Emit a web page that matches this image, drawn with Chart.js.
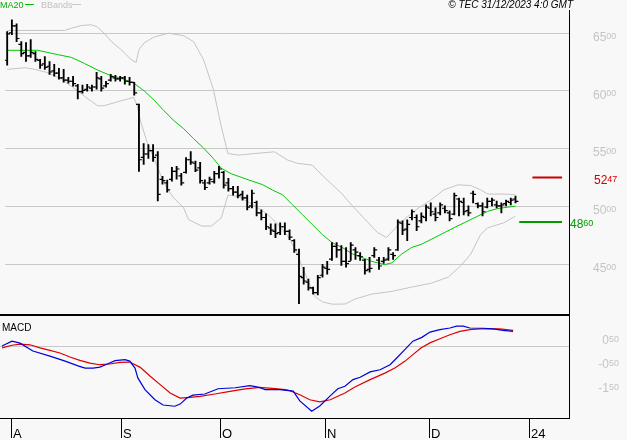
<!DOCTYPE html>
<html>
<head>
<meta charset="utf-8">
<script src="https://cdn.jsdelivr.net/npm/chart.js@4.4.0/dist/chart.umd.min.js"></script>
<style>
html, body { margin: 0; padding: 0; background: #f8f8f8; }
#wrap { position: relative; width: 627px; height: 440px; overflow: hidden; }
#price { position: absolute; left: 0; top: 0; }
#macd { position: absolute; left: 0; top: 316px; }
</style>
</head>
<body>
<div id="wrap">
  <canvas id="price" width="627" height="316"></canvas>
  <canvas id="macd" width="627" height="124"></canvas>
</div>
<script>
// daily bars, index 0 = 28 Jul 2023 (trading days)
const open = [
  6260, 6500, 6560, 6400, 6330, 6300, 6320, 6260, 6230, 6210,
  6170, 6150, 6110, 6090, 6080, 6040, 5990, 6010, 6020, 6030,
  6100, 6040, 6090, 6110, 6100, 6110, 6080, 6070, 5880, 5420,
  5450, 5480, 5440, 5230, 5200, 5230, 5300, 5260, 5290, 5400,
  5370, 5330, 5200, 5200, 5210, 5280, 5290, 5200, 5150, 5120,
  5100, 5070, 5000, 5030, 4940, 4900, 4810, 4780, 4770, 4820,
  4780, 4700, 4580, 4380, 4340, 4290, 4250, 4400, 4460, 4540,
  4650, 4620, 4520, 4520, 4620, 4570, 4530, 4450, 4570, 4530,
  4520, 4540, 4580, 4620, 4850, 4800, 4900, 4900, 4870, 4900,
  4980, 4930, 4940, 4980, 4940, 4930, 5060, 5030, 4960, 5110,
  5020, 5000, 4990, 5040, 5010, 5000, 5020, 5030, 5060
];
const high = [
  6511, 6611, 6577, 6423, 6414, 6440, 6337, 6269, 6294, 6251,
  6226, 6191, 6183, 6114, 6123, 6054, 6046, 6054, 6046, 6157,
  6123, 6080, 6140, 6131, 6123, 6123, 6114, 6071, 5883, 5540,
  5531, 5531, 5471, 5257, 5223, 5334, 5343, 5283, 5420, 5471,
  5388, 5377, 5226, 5249, 5300, 5343, 5300, 5240, 5171, 5171,
  5129, 5094, 5137, 5043, 4966, 4931, 4846, 4846, 4854, 4854,
  4794, 4709, 4626, 4469, 4366, 4297, 4400, 4494, 4520, 4683,
  4683, 4657, 4640, 4683, 4640, 4597, 4537, 4554, 4640, 4554,
  4554, 4640, 4597, 4880, 4871, 4880, 4966, 4923, 4940, 5009,
  5026, 4983, 5026, 5000, 4957, 5111, 5069, 5069, 5000, 5129,
  5026, 5026, 5069, 5069, 5043, 5026, 5051, 5069, 5086
];
const low = [
  6220, 6483, 6423, 6294, 6251, 6286, 6251, 6191, 6183, 6140,
  6123, 6097, 6071, 6063, 6037, 5926, 5977, 5994, 5994, 6011,
  5994, 6029, 6080, 6080, 6080, 6054, 6046, 5960, 5300, 5360,
  5411, 5386, 5043, 5189, 5120, 5214, 5231, 5180, 5283, 5360,
  5297, 5197, 5140, 5189, 5197, 5240, 5154, 5129, 5094, 5069,
  5051, 4966, 4983, 4914, 4880, 4794, 4751, 4726, 4751, 4751,
  4709, 4597, 4154, 4323, 4271, 4237, 4229, 4383, 4409, 4529,
  4554, 4486, 4469, 4529, 4537, 4529, 4409, 4426, 4554, 4451,
  4503, 4529, 4537, 4614, 4751, 4700, 4880, 4786, 4854, 4871,
  4914, 4871, 4923, 4940, 4871, 4923, 4914, 4923, 4914, 5026,
  4983, 4914, 4983, 5000, 4983, 4940, 5000, 5009, 5026
];
const close = [
  6490, 6560, 6450, 6320, 6300, 6330, 6270, 6220, 6200, 6160,
  6150, 6110, 6090, 6080, 6060, 5990, 6000, 6030, 6030, 6110,
  6020, 6060, 6120, 6100, 6110, 6080, 6070, 5980, 5400, 5450,
  5480, 5420, 5100, 5220, 5140, 5300, 5320, 5200, 5400, 5380,
  5310, 5220, 5160, 5230, 5280, 5320, 5180, 5150, 5120, 5090,
  5070, 4990, 5110, 4940, 4900, 4820, 4790, 4760, 4820, 4780,
  4730, 4620, 4390, 4350, 4290, 4250, 4380, 4470, 4450, 4650,
  4620, 4520, 4500, 4660, 4600, 4560, 4440, 4460, 4620, 4480,
  4530, 4620, 4570, 4860, 4790, 4840, 4950, 4820, 4910, 4990,
  4950, 4900, 5010, 4960, 4890, 5090, 5040, 4950, 4940, 5100,
  5000, 4950, 5040, 5050, 5000, 5010, 5040, 5050, 5040
];

// MA20 (day index, value)
const maX = [0, 6.5, 10.7, 13.7, 16.4, 19.2, 22.1, 24.2, 26.9, 29.1, 31.2, 33.3, 35.4, 37.5, 39.6, 41.7, 43.8, 45.5, 47.6, 51.2, 54.3, 56.4, 58.5, 60.6, 62.7, 64.8, 67, 69, 71.2, 73.3, 75.4, 77.5, 80.2, 81.7, 83.8, 85.9, 88, 90.1, 92.2, 94.9, 97.1, 100, 102.1, 104.2, 106.3, 108];
const maY = [6348, 6348, 6311, 6286, 6234, 6177, 6127, 6106, 6063, 5997, 5917, 5825, 5740, 5669, 5583, 5503, 5411, 5326, 5279, 5227, 5184, 5137, 5097, 5011, 4926, 4840, 4751, 4683, 4640, 4586, 4554, 4520, 4492, 4507, 4583, 4640, 4668, 4711, 4754, 4811, 4854, 4912, 4954, 4977, 4989, 4998];

// Bollinger bands
const bbUpX = [0, 12.2, 13.7, 15.8, 17.9, 19.2, 20.6, 22.1, 24.2, 26.3, 27.4, 28, 29.1, 31.2, 34.3, 37.5, 39.6, 41.7, 43.8, 45.5, 46.9, 49.1, 52.6, 56.8, 59.6, 61.7, 64.8, 66.9, 69.1, 71.2, 72.8, 75.4, 78.7, 80.6, 83.2, 86.5, 90.1, 92.8, 95.8, 98.5, 100.6, 102.1, 105.5, 108];
const bbUpY = [6520, 6520, 6540, 6563, 6569, 6549, 6497, 6425, 6354, 6269, 6243, 6354, 6412, 6463, 6496, 6474, 6423, 6269, 6011, 5686, 5454, 5440, 5454, 5469, 5397, 5369, 5354, 5268, 5183, 5103, 5026, 4912, 4769, 4726, 4840, 4957, 5054, 5140, 5183, 5177, 5140, 5103, 5103, 5097];
const bbLoX = [0, 3.8, 5.9, 8.6, 11.6, 13.7, 16.4, 19.2, 20.6, 24.2, 26.9, 27.6, 28.4, 29.7, 31.2, 32.6, 33.9, 35.4, 37.5, 38.5, 41.3, 43.4, 45.5, 46.9, 49.1, 52.2, 55.4, 57.5, 59.6, 61.7, 62.7, 64.2, 65.5, 67, 69.1, 71.8, 73.9, 77.5, 81.7, 85.9, 90.1, 93.7, 96.4, 98.5, 100.6, 102.1, 105.5, 108];
const bbLoY = [6183, 6197, 6183, 6154, 6097, 6034, 5951, 5868, 5868, 5911, 5940, 5868, 5726, 5554, 5411, 5268, 5154, 5069, 4983, 4883, 4826, 4826, 4897, 5094, 5083, 5011, 4926, 4840, 4740, 4589, 4469, 4326, 4211, 4169, 4149, 4151, 4194, 4237, 4260, 4297, 4331, 4383, 4483, 4583, 4754, 4811, 4854, 4912];

// MACD and signal
const macdX = [0, 2.1, 3.8, 6.5, 10.1, 13.3, 16, 17.5, 19.2, 20.6, 22.3, 23.8, 25.9, 26.9, 28, 28.6, 30.1, 32.2, 33.9, 36.4, 37.5, 38.9, 40.2, 42.7, 45.5, 49.1, 52.2, 53.9, 55.4, 58.5, 61.3, 62.7, 65.2, 66.9, 69.1, 70.7, 72.2, 73.9, 75.4, 77.5, 79.6, 81.7, 83.1, 84.8, 86.5, 88.4, 90.1, 92.2, 94.3, 95.7, 97.1, 98.5, 101.3, 103.4, 105.5, 107.6];
const macdY = [0, 20, 12, -21, -42, -63, -83, -92, -92, -88, -74, -61, -57, -63, -92, -133, -182, -224, -246, -251, -242, -217, -205, -200, -178, -174, -165, -171, -182, -182, -188, -229, -272, -250, -208, -178, -168, -140, -130, -108, -99, -78, -50, -15, 20, 36, 58, 68, 75, 83, 83, 75, 74, 71, 65, 61];
const sigX = [0, 2.1, 3.8, 5.9, 8, 10.1, 12.2, 14.3, 16.4, 18.5, 20.6, 22.7, 24.8, 26.9, 29.1, 31.2, 33.3, 35.4, 37.5, 39.6, 41.7, 44.8, 48, 51.2, 54.3, 57.5, 59.6, 60.6, 62.7, 64.8, 66.9, 69.1, 72.2, 74.3, 77.5, 80.6, 82.7, 84.8, 86.5, 88.2, 90.1, 92.2, 94.3, 96.4, 98.5, 100.6, 104.8, 107.6];
const sigY = [-8, 3, 8, 5, -8, -18, -29, -46, -60, -71, -78, -75, -68, -67, -89, -126, -161, -196, -217, -214, -210, -200, -189, -179, -172, -178, -182, -186, -203, -224, -233, -224, -196, -171, -140, -113, -92, -64, -36, -8, 13, 30, 47, 61, 68, 71, 71, 65];

const resistance = 5247;
const support = 4860;

const monthStarts = [2, 25, 46, 68, 90, 111];
const monthLabels = ['A', 'S', 'O', 'N', 'D', '24'];
const priceTicks = [4500, 5000, 5500, 6000, 6500];
const priceTickLabels = ['4500', '5000', '5500', '6000', '6500'];
const macdTicks = [50, -50, -150];
const macdTickLabels = ['050', '-050', '-150'];

const X_MIN = -0.42, X_MAX = 119.37;
const FONT = '"Liberation Sans", Arial, sans-serif';

function pts(xs, ys) {
  return xs.map((x, k) => ({ x: x, y: ys[k] }));
}

// big digits + small trailing two digits, top aligned
function splitLabel(ctx, txt, x, yTop, color, alignRight) {
  const big = txt.slice(0, -2), small = txt.slice(-2);
  ctx.font = '12px ' + FONT;
  const w1 = ctx.measureText(big).width;
  ctx.font = '9px ' + FONT;
  const w2 = ctx.measureText(small).width;
  const x0 = alignRight ? x - w1 - w2 : x;
  ctx.fillStyle = color;
  ctx.textAlign = 'left';
  ctx.textBaseline = 'alphabetic';
  ctx.font = '12px ' + FONT;
  ctx.fillText(big, x0, yTop + 8.6);
  ctx.font = '9px ' + FONT;
  ctx.fillText(small, x0 + w1, yTop + 6.4);
}

const pricePanel = {
  id: 'pricePanel',
  beforeDatasetsDraw(chart) {
    const { ctx, chartArea: a, scales: { y } } = chart;
    ctx.save();
    ctx.strokeStyle = '#c8c8c8';
    ctx.lineWidth = 1;
    priceTicks.forEach(v => {
      const py = Math.round(y.getPixelForValue(v)) + 0.5;
      ctx.beginPath();
      ctx.moveTo(a.left, py);
      ctx.lineTo(a.right, py);
      ctx.stroke();
    });
    ctx.restore();
  },
  afterDraw(chart) {
    const { ctx, chartArea: a, scales: { y } } = chart;
    ctx.save();
    // frame
    ctx.strokeStyle = '#000';
    ctx.lineWidth = 1;
    ctx.beginPath();
    ctx.moveTo(a.right + 0.5, a.top);
    ctx.lineTo(a.right + 0.5, chart.height);
    ctx.stroke();
    ctx.lineWidth = 2;
    ctx.beginPath();
    ctx.moveTo(0, 315);
    ctx.lineTo(a.right + 1, 315);
    ctx.stroke();

    priceTicks.forEach((v, k) => {
      splitLabel(ctx, priceTickLabels[k], 593, y.getPixelForValue(v) - 0.5, '#c4c4c4');
    });
    splitLabel(ctx, String(resistance), 594, y.getPixelForValue(resistance) - 2, '#cc0000');
    splitLabel(ctx, String(support), 570, y.getPixelForValue(support) - 2.5, '#009900');

    // legend
    ctx.textBaseline = 'alphabetic';
    ctx.textAlign = 'left';
    ctx.font = '9px ' + FONT;
    ctx.fillStyle = '#00b000';
    ctx.fillText('MA20', 0, 8);
    ctx.strokeStyle = '#00c000';
    ctx.lineWidth = 1;
    ctx.beginPath();
    ctx.moveTo(25, 4.5);
    ctx.lineTo(34, 4.5);
    ctx.stroke();
    ctx.fillStyle = '#c0c0c0';
    ctx.fillText('BBands', 41, 8);
    ctx.strokeStyle = '#c8c8c8';
    ctx.beginPath();
    ctx.moveTo(72, 4.5);
    ctx.lineTo(81, 4.5);
    ctx.stroke();

    ctx.fillStyle = '#000';
    ctx.font = 'italic 10px ' + FONT;
    ctx.textAlign = 'right';
    ctx.fillText('\u00a9 TEC 31/12/2023 4:0 GMT', 573, 8);
    ctx.restore();
  }
};

const macdPanel = {
  id: 'macdPanel',
  beforeDatasetsDraw(chart) {
    const { ctx, chartArea: a, scales: { y } } = chart;
    ctx.save();
    ctx.strokeStyle = '#c8c8c8';
    ctx.lineWidth = 1;
    const py = Math.round(y.getPixelForValue(0)) + 0.5;
    ctx.beginPath();
    ctx.moveTo(a.left, py);
    ctx.lineTo(a.right, py);
    ctx.stroke();
    ctx.restore();
  },
  afterDraw(chart) {
    const { ctx, chartArea: a, scales: { x, y } } = chart;
    ctx.save();
    ctx.strokeStyle = '#000';
    ctx.lineWidth = 1;
    ctx.beginPath();
    ctx.moveTo(a.right + 0.5, 0);
    ctx.lineTo(a.right + 0.5, a.bottom + 1);
    ctx.moveTo(0, a.bottom + 0.5);
    ctx.lineTo(a.right + 1, a.bottom + 0.5);
    ctx.stroke();

    ctx.font = '13px ' + FONT;
    ctx.fillStyle = '#000';
    ctx.textAlign = 'left';
    ctx.textBaseline = 'alphabetic';
    monthStarts.forEach((d, k) => {
      const px = Math.round(x.getPixelForValue(d)) + 0.5;
      ctx.beginPath();
      ctx.moveTo(px, a.bottom);
      ctx.lineTo(px, a.bottom + 20);
      ctx.stroke();
      ctx.fillText(monthLabels[k], px + 1.5, a.bottom + 20);
    });

    macdTicks.forEach((v, k) => {
      splitLabel(ctx, macdTickLabels[k], 619, y.getPixelForValue(v) + 1.5, '#c4c4c4', true);
    });

    ctx.font = '10px ' + FONT;
    ctx.fillStyle = '#000';
    ctx.textAlign = 'left';
    ctx.fillText('MACD', 2, 15);
    ctx.restore();
  }
};

const lineDs = (data, color, width, order) => ({
  type: 'line', data: data, borderColor: color, borderWidth: width,
  pointRadius: 0, tension: 0, fill: false, order: order
});

new Chart(document.getElementById('price'), {
  type: 'bar',
  data: {
    datasets: [
      {
        type: 'bar',
        data: high.map((h, i) => ({ x: i, y: [low[i], h] })),
        backgroundColor: '#000',
        barThickness: 1.2,
        order: 0
      },
      {
        type: 'line', showLine: false,
        data: open.map((v, i) => ({ x: i - 0.32, y: v })),
        pointStyle: 'line', pointRadius: 1.4, pointBorderWidth: 1.2,
        borderColor: '#000', order: 0
      },
      {
        type: 'line', showLine: false,
        data: close.map((v, i) => ({ x: i + 0.32, y: v })),
        pointStyle: 'line', pointRadius: 1.4, pointBorderWidth: 1.2,
        borderColor: '#000', order: 0
      },
      lineDs(pts(maX, maY), '#00c800', 1, 1),
      lineDs(pts(bbUpX, bbUpY), '#c4c4c4', 1, 2),
      lineDs(pts(bbLoX, bbLoY), '#c4c4c4', 1, 2),
      lineDs([{ x: 111.6, y: resistance }, { x: 117.9, y: resistance }], '#cc0000', 2, 3),
      lineDs([{ x: 108.8, y: support }, { x: 117.9, y: support }], '#009900', 2, 3)
    ]
  },
  options: {
    responsive: false,
    animation: false,
    events: [],
    layout: { padding: { top: 10, bottom: 2, left: 0, right: 58 } },
    plugins: { legend: { display: false }, tooltip: { enabled: false } },
    scales: {
      x: { type: 'linear', min: X_MIN, max: X_MAX, offset: false, display: false },
      y: { type: 'linear', min: 4092, max: 6697, display: false }
    }
  },
  plugins: [pricePanel]
});

new Chart(document.getElementById('macd'), {
  type: 'line',
  data: {
    datasets: [
      lineDs(pts(macdX, macdY), '#0000dd', 1.2, 0),
      lineDs(pts(sigX, sigY), '#dd0000', 1.2, 1)
    ]
  },
  options: {
    responsive: false,
    animation: false,
    events: [],
    layout: { padding: { top: 0, bottom: 22, left: 0, right: 58 } },
    plugins: { legend: { display: false }, tooltip: { enabled: false } },
    scales: {
      x: { type: 'linear', min: X_MIN, max: X_MAX, offset: false, display: false },
      y: { type: 'linear', min: -300, max: 125, display: false }
    }
  },
  plugins: [macdPanel]
});
</script>
</body>
</html>
